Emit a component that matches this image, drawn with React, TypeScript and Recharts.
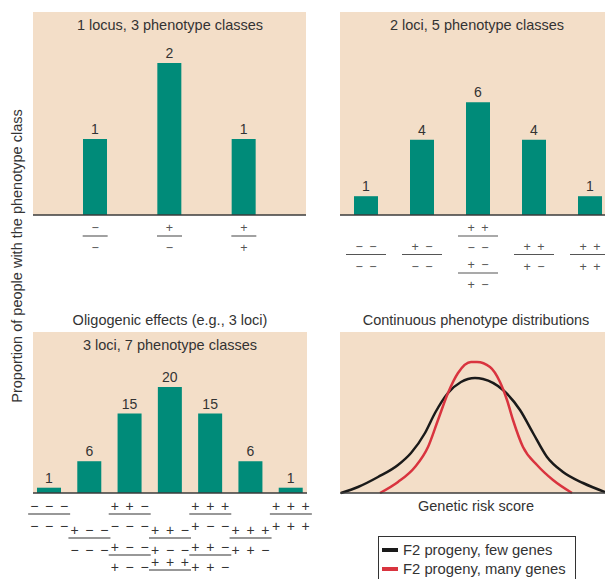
import { BarChart, Bar, LineChart, Line, XAxis, YAxis, CartesianGrid, LabelList } from 'recharts';

// counts per phenotype class
const locus1Classes = ['aa', 'Aa', 'AA'];
const locus1Counts = [1, 2, 1];
const locus1Genotypes = [[['−', '−']], [['+', '−']], [['+', '+']]];

const loci2Classes = ['0', '1', '2', '3', '4'];
const loci2Counts = [1, 4, 6, 4, 1];
const loci2Genotypes = [
  [['− −', '− −']],
  [['+ −', '− −']],
  [['+ +', '− −'], ['+ −', '+ −']],
  [['+ +', '+ −']],
  [['+ +', '+ +']],
];

const loci3Classes = ['0', '1', '2', '3', '4', '5', '6'];
const loci3Counts = [1, 6, 15, 20, 15, 6, 1];
// the last denominator of class 3 falls below the picture's edge
const loci3Genotypes = [
  [['− − −', '− − −']],
  [['+ − −', '− − −']],
  [['+ + −', '− − −'], ['+ − −', '+ − −']],
  [['+ + −', '+ − −'], ['+ + +', '']],
  [['+ + +', '+ − −'], ['+ + −', '+ + −']],
  [['+ + +', '+ + −']],
  [['+ + +', '+ + +']],
];

// continuous curves (arbitrary units)
const seriesNames = ['F2 progeny, few genes', 'F2 progeny, many genes'];
const seriesColors = ['#1a1a1a', '#D9343F'];
const fewGenesScore = [1, 18, 38, 58, 71, 85, 95, 108, 121, 135, 143, 163, 180, 193, 207, 223, 243, 265];
const fewGenesDensity = [0, 6, 16, 28, 40, 60, 80, 100, 111, 115, 114, 103, 83, 60, 36, 21, 10, 1];
const manyGenesScore = [40, 58, 75, 88, 98, 108, 118, 131, 137, 150, 160, 167, 173, 183, 197, 213, 232];
const manyGenesDensity = [0, 11, 26, 46, 73, 100, 120, 131, 131, 126, 111, 93, 73, 46, 28, 13, 0];

const FONT = '"Liberation Sans", Arial, sans-serif';
const BEIGE = '#F3DEC8';
const TEAL = '#008B79';
const AXIS = '#3b3b3b';

const toBars = (names: string[], counts: number[]) => names.map((name, i) => ({ name, value: counts[i] }));
const toCurve = (xs: number[], ys: number[]) => xs.map((score, i) => ({ score, density: ys[i] }));

function Fraction({ x, y, top, bottom, w, color, fs, ls }: any) {
  const tx = x + ls / 2;
  return (
    <g fontFamily={FONT}>
      <text x={tx} y={y} textAnchor="middle" dominantBaseline="central" fontSize={fs} fill={color} letterSpacing={ls}>{top}</text>
      <line x1={x - w / 2} x2={x + w / 2} y1={y + 8} y2={y + 8} stroke={color} strokeWidth={1.1} />
      {bottom ? (
        <text x={tx} y={y + 20} textAnchor="middle" dominantBaseline="central" fontSize={fs} fill={color} letterSpacing={ls}>{bottom}</text>
      ) : null}
    </g>
  );
}

// stacked and centred columns (panels 1 & 2)
const centredTick = (genotypes: string[][][], w: number) => (props: any) => {
  const { x, y, payload } = props;
  const fr = genotypes[payload.index] || [];
  const maxN = Math.max(...genotypes.map((g) => g.length));
  const pitch = 37;
  const start = y + 13 + ((maxN - fr.length) * pitch) / 2;
  return (
    <g>
      {fr.map((f, k) => (
        <Fraction key={k} x={x} y={start + k * pitch} top={f[0]} bottom={f[1]} w={w} color="#555" fs={12.5} ls={1.5} />
      ))}
    </g>
  );
};

// staggered columns (panel 3)
const staggerTick = (genotypes: string[][][]) => (props: any) => {
  const { x, y, payload } = props;
  const fr = genotypes[payload.index] || [];
  const odd = payload.index % 2 === 1;
  const start = y + (odd ? 37 : 13);
  const pitch = odd ? 32 : 41;
  return (
    <g>
      {fr.map((f, k) => (
        <Fraction key={k} x={x} y={start + k * pitch} top={f[0]} bottom={f[1]} w={42} color="#333" fs={14} ls={1.4} />
      ))}
    </g>
  );
};

function Title({ x, y, children, size = 14.5 }: any) {
  return (
    <div
      style={{
        position: 'absolute',
        left: x,
        top: y - 9,
        transform: 'translateX(-50%)',
        whiteSpace: 'nowrap',
        fontSize: size,
        lineHeight: '18px',
        color: '#333',
        fontFamily: FONT,
      }}
    >
      {children}
    </div>
  );
}

const barLabel = { position: 'top' as const, fill: '#333', fontSize: 14, fontFamily: FONT };

export default function App() {
  return (
    <div style={{ position: 'absolute', left: 0, top: 0, width: 605, height: 579, overflow: 'hidden', background: '#fff', fontFamily: FONT }}>
      {/* 1 locus */}
      <div style={{ position: 'absolute', left: 0, top: 0 }}>
        <BarChart width={306} height={298} data={toBars(locus1Classes, locus1Counts)} margin={{ top: 12, right: 0, left: 33, bottom: 0 }}>
          <CartesianGrid horizontal={false} vertical={false} fill={BEIGE} stroke="none" />
          <XAxis dataKey="name" height={83} tickSize={0} tickMargin={0} tickLine={false} interval={0}
            padding={{ left: 25, right: 25 }} axisLine={{ stroke: AXIS, strokeWidth: 1.5 }} tick={centredTick(locus1Genotypes, 25)} />
          <YAxis width={0} tick={false} domain={[0, 2.67]} axisLine={{ stroke: AXIS, strokeWidth: 1.5 }} />
          <Bar dataKey="value" fill={TEAL} barSize={24} isAnimationActive={false}>
            <LabelList dataKey="value" {...barLabel} />
          </Bar>
        </BarChart>
      </div>

      {/* 2 loci */}
      <div style={{ position: 'absolute', left: 300, top: 0 }}>
        <BarChart width={318} height={298} data={toBars(loci2Classes, loci2Counts)} margin={{ top: 12, right: 0, left: 40, bottom: 0 }}>
          <CartesianGrid horizontal={false} vertical={false} fill={BEIGE} stroke="none" />
          <XAxis dataKey="name" height={83} tickSize={0} tickMargin={0} tickLine={false} interval={0}
            padding={{ left: -2, right: 0 }} axisLine={{ stroke: AXIS, strokeWidth: 1.5 }} tick={centredTick(loci2Genotypes, 40)} />
          <YAxis width={0} tick={false} domain={[0, 10.8]} axisLine={{ stroke: AXIS, strokeWidth: 1.5 }} />
          <Bar dataKey="value" fill={TEAL} barSize={24} isAnimationActive={false}>
            <LabelList dataKey="value" {...barLabel} />
          </Bar>
        </BarChart>
      </div>

      {/* 3 loci */}
      <div style={{ position: 'absolute', left: 0, top: 300 }}>
        <BarChart width={317} height={279} data={toBars(loci3Classes, loci3Counts)} margin={{ top: 32, right: 10, left: 33, bottom: 0 }}>
          <CartesianGrid horizontal={false} vertical={false} fill={BEIGE} stroke="none" />
          <XAxis dataKey="name" height={86} tickSize={0} tickMargin={0} tickLine={false} interval={0}
            padding={{ left: -4, right: -4 }} axisLine={{ stroke: AXIS, strokeWidth: 1.5 }} tick={staggerTick(loci3Genotypes)} />
          <YAxis width={0} tick={false} domain={[0, 30.4]} axisLine={{ stroke: AXIS, strokeWidth: 1.5 }} />
          <Bar dataKey="value" fill={TEAL} barSize={24} isAnimationActive={false}>
            <LabelList dataKey="value" {...barLabel} />
          </Bar>
        </BarChart>
      </div>

      {/* continuous */}
      <div style={{ position: 'absolute', left: 300, top: 300 }}>
        <LineChart width={305} height={279} margin={{ top: 32, right: 0, left: 40, bottom: 0 }}>
          <CartesianGrid horizontal={false} vertical={false} fill={BEIGE} stroke="none" />
          <XAxis dataKey="score" type="number" domain={[0, 265]} allowDataOverflow height={86} tick={false} tickLine={false}
            axisLine={{ stroke: AXIS, strokeWidth: 1.5 }} />
          <YAxis width={0} tick={false} domain={[0, 161]} axisLine={{ stroke: AXIS, strokeWidth: 1.5 }} />
          <Line data={toCurve(fewGenesScore, fewGenesDensity)} dataKey="density" name={seriesNames[0]} type="monotone"
            stroke={seriesColors[0]} strokeWidth={2.5} dot={false} isAnimationActive={false} />
          <Line data={toCurve(manyGenesScore, manyGenesDensity)} dataKey="density" name={seriesNames[1]} type="monotone"
            stroke={seriesColors[1]} strokeWidth={2.5} dot={false} isAnimationActive={false} />
        </LineChart>
      </div>

      {/* legend */}
      <div
        style={{
          position: 'absolute',
          left: 378,
          top: 536,
          width: 198,
          boxSizing: 'border-box',
          border: '1px solid #333',
          padding: '3px 3px 5px 3px',
          background: '#fff',
          fontFamily: FONT,
        }}
      >
        {seriesNames.map((n, i) => (
          <div key={n} style={{ display: 'flex', alignItems: 'center', height: 19, fontSize: 14.8, color: '#333', whiteSpace: 'nowrap' }}>
            <span style={{ display: 'inline-block', width: 16, height: 4, background: seriesColors[i], marginRight: 5 }} />
            {n}
          </div>
        ))}
      </div>

      <Title x={170} y={25}>1 locus, 3 phenotype classes</Title>
      <Title x={477} y={25}>2 loci, 5 phenotype classes</Title>
      <Title x={170} y={320}>Oligogenic effects (e.g., 3 loci)</Title>
      <Title x={170} y={345}>3 loci, 7 phenotype classes</Title>
      <Title x={476} y={320}>Continuous phenotype distributions</Title>
      <Title x={476} y={506}>Genetic risk score</Title>

      <div
        style={{
          position: 'absolute',
          left: 17,
          top: 256,
          transform: 'translate(-50%, -50%) rotate(-90deg)',
          whiteSpace: 'nowrap',
          fontSize: 14.5,
          color: '#333',
          fontFamily: FONT,
        }}
      >
        Proportion of people with the phenotype class
      </div>
    </div>
  );
}
